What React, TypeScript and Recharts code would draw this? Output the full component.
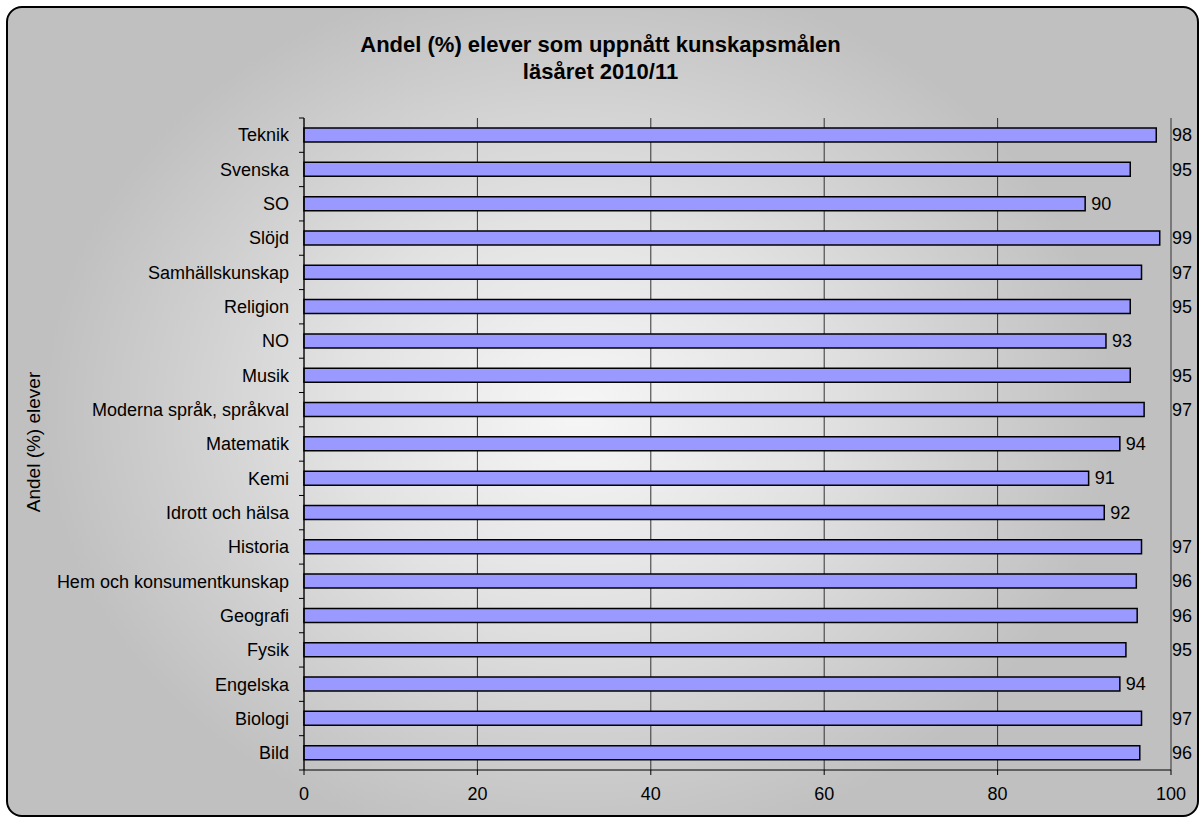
import { Bar, BarChart, CartesianGrid, LabelList, XAxis, YAxis } from "recharts";

const subjects = [
  "Teknik",
  "Svenska",
  "SO",
  "Slöjd",
  "Samhällskunskap",
  "Religion",
  "NO",
  "Musik",
  "Moderna språk, språkval",
  "Matematik",
  "Kemi",
  "Idrott och hälsa",
  "Historia",
  "Hem och konsumentkunskap",
  "Geografi",
  "Fysik",
  "Engelska",
  "Biologi",
  "Bild",
];

// share of pupils (%) per subject, as drawn
const shares = [98.3, 95.3, 90.1, 98.7, 96.6, 95.3, 92.5, 95.3, 96.9, 94.1, 90.5, 92.3, 96.6, 96.0, 96.1, 94.8, 94.1, 96.6, 96.4];

const xTicks = [0, 20, 40, 60, 80, 100];

const title = ["Andel (%) elever som uppnått kunskapsmålen", "läsåret 2010/11"];
const yTitle = "Andel (%) elever";

const data = subjects.map((name, i) => ({ name, value: shares[i] }));

const FONT = '"Liberation Sans", Arial, sans-serif';

function SubjectTick(props: any) {
  const { x, y, payload, index, visibleTicksCount } = props;
  const half = typeof payload?.offset === "number" && payload.offset > 0 ? payload.offset : 17.15;
  const axisX = x + 8;
  return (
    <g>
      <line x1={axisX - 5} x2={axisX} y1={y - half} y2={y - half} stroke="#000" />
      {index === visibleTicksCount - 1 && (
        <line x1={axisX - 5} x2={axisX} y1={y + half} y2={y + half} stroke="#000" />
      )}
      <text x={axisX - 15} y={y} dy="0.35em" textAnchor="end" fontSize={18} fontFamily={FONT} fill="#000">
        {payload.value}
      </text>
    </g>
  );
}

function ValueLabel(props: any) {
  const { x, y, width, height, value } = props;
  const end = x + width;
  const full = x + (width / value) * 100;
  // labels near the end of the scale sit just past the right edge of the plot
  const tx = value >= 94.5 ? full + 1 : end + 6;
  return (
    <text x={tx} y={y + height / 2} dy="0.35em" fontSize={18} fontFamily={FONT} fill="#000">
      {Math.round(value)}
    </text>
  );
}

export default function App() {
  return (
    <div style={{ position: "absolute", left: 0, top: 0, width: 1201, height: 819 }}>
      <div
        style={{
          position: "absolute",
          left: 6,
          top: 6,
          width: 1193,
          height: 811,
          boxSizing: "border-box",
          border: "2px solid #000",
          borderRadius: 16,
          background:
            "radial-gradient(ellipse 45% 55% at 48% 50%, #f6f6f6 0%, #e2e2e2 45%, #cfcfcf 75%, #c0c0c0 100%)",
        }}
      />
      <div
        style={{
          position: "absolute",
          left: 0,
          top: 31,
          width: 1201,
          textAlign: "center",
          fontFamily: FONT,
          fontWeight: "bold",
          fontSize: 22,
          lineHeight: "27px",
          color: "#000",
        }}
      >
        {title.map((t) => (
          <div key={t}>{t}</div>
        ))}
      </div>
      <div
        style={{
          position: "absolute",
          left: 34,
          top: 442,
          transform: "translate(-50%, -50%) rotate(-90deg)",
          whiteSpace: "nowrap",
          fontFamily: FONT,
          fontSize: 19,
          color: "#000",
        }}
      >
        {yTitle}
      </div>
      <div style={{ position: "absolute", left: 0, top: 0 }}>
        <BarChart
          width={1201}
          height={819}
          data={data}
          layout="vertical"
          margin={{ top: 118, right: 30, bottom: 9, left: 0 }}
          barSize={14}
        >
          <CartesianGrid horizontal={false} vertical stroke="#333" strokeWidth={1} />
          <XAxis
            type="number"
            domain={[0, 100]}
            ticks={xTicks}
            height={40}
            tickSize={5}
            tickMargin={12}
            stroke="#000"
            tick={{ fill: "#000", fontSize: 18, fontFamily: FONT }}
          />
          <YAxis
            type="category"
            dataKey="name"
            width={304}
            stroke="#000"
            tickLine={false}
            interval={0}
            tick={<SubjectTick />}
          />
          <Bar dataKey="value" fill="#9999FF" stroke="#000" strokeWidth={1.5} isAnimationActive={false}>
            <LabelList dataKey="value" content={<ValueLabel />} />
          </Bar>
        </BarChart>
      </div>
    </div>
  );
}
